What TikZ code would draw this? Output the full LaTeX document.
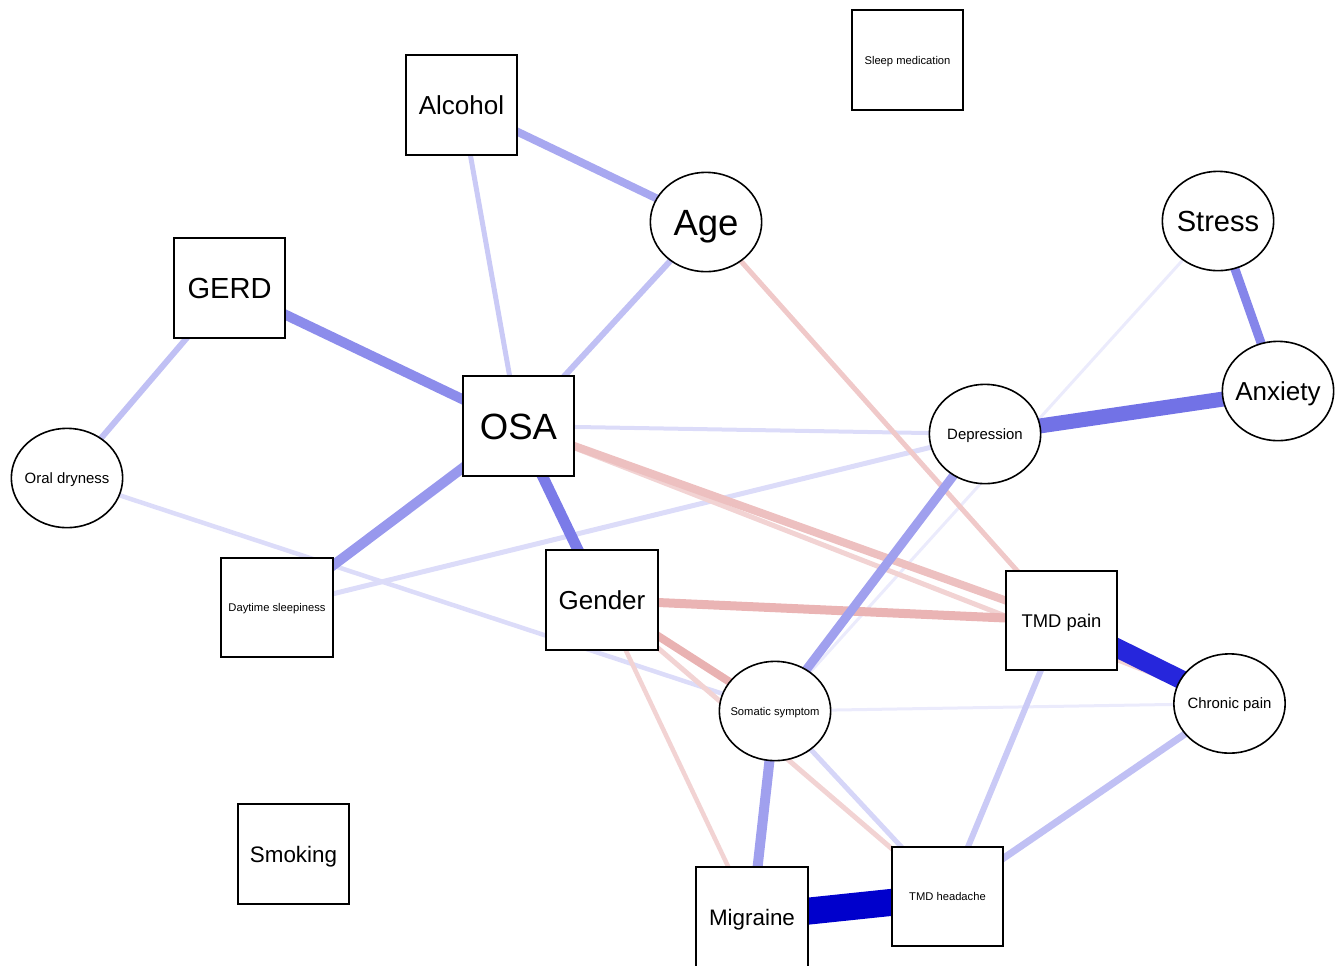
\documentclass[tikz,border=0pt]{standalone}
\usepackage{fontspec}
\setmainfont{Liberation Sans}
\usetikzlibrary{shapes.geometric,backgrounds}
\definecolor{bA}{HTML}{0000CC}
\definecolor{bB}{HTML}{2626DC}
\definecolor{bC}{HTML}{7272E6}
\definecolor{bD}{HTML}{7B7BE8}
\definecolor{bE}{HTML}{8585EA}
\definecolor{bF}{HTML}{8C8CEB}
\definecolor{bG}{HTML}{9898ED}
\definecolor{bH}{HTML}{A0A0EE}
\definecolor{bI}{HTML}{A8A8F0}
\definecolor{bJ}{HTML}{C0C0F4}
\definecolor{bK}{HTML}{CACAF6}
\definecolor{bL}{HTML}{D6D6F8}
\definecolor{bM}{HTML}{DCDCF9}
\definecolor{bN}{HTML}{EBEBFC}
\definecolor{rA}{HTML}{EAB4B4}
\definecolor{rB}{HTML}{E9B2B2}
\definecolor{rC}{HTML}{EDC0C0}
\definecolor{rD}{HTML}{F0C9C9}
\definecolor{rE}{HTML}{F2D3D3}
\newcommand{\zw}[1]{\makebox[0pt]{#1}}
\tikzset{
  box/.style={rectangle,draw=black,line width=1.5pt,fill=white,minimum width=83.5pt,minimum height=74.5pt,inner sep=0pt,text depth=0pt},
  oval/.style={ellipse,draw=black,line width=1.2pt,fill=white,minimum width=83.5pt,minimum height=74.5pt,inner sep=0pt,text depth=0pt},
  ed/.style 2 args={draw=#1,line width=#2*0.75pt},
  fXL/.style={font=\fontsize{27.4pt}{30pt}\selectfont,text height=19.7pt},
  fL/.style={font=\fontsize{21.8pt}{24pt}\selectfont,text height=15.7pt},
  fM/.style={font=\fontsize{19.5pt}{22pt}\selectfont,text height=14pt},
  fMs/.style={font=\fontsize{16.8pt}{19pt}\selectfont,text height=12.1pt},
  fS/.style={font=\fontsize{13.8pt}{16pt}\selectfont,text height=9.9pt},
  fXS/.style={font=\fontsize{11.2pt}{13pt}\selectfont,text height=8.1pt},
  fT/.style={font=\fontsize{8.4pt}{10pt}\selectfont,text height=6pt}
}
\begin{document}
\begin{tikzpicture}[x=0.75pt,y=-0.75pt]
\useasboundingbox (0,0) rectangle (1338,965);
% nodes
\node[box,fT] (sleep) at (907.5,60) {Sleep medication};
\node[box,fM] (alc) at (461.5,105) {Alcohol};
\node[oval,fXL] (age) at (706,222) {\zw{Age}};
\node[oval,fL] (stress) at (1218,221) {\zw{Stress}};
\node[box,fL] (gerd) at (229.5,288) {GERD};
\node[oval,fM] (anx) at (1278,391) {\zw{Anxiety}};
\node[oval,fXS] (dep) at (985,434) {\zw{Depression}};
\node[box,fXL] (osa) at (518.5,426) {OSA};
\node[oval,fXS] (oral) at (67,478) {\zw{Oral dryness}};
\node[box,fT] (day) at (277,607.5) {Daytime sleepiness};
\node[box,fM] (gen) at (602,600) {Gender};
\node[box,fS] (tmdp) at (1061.5,620.5) {TMD pain};
\node[oval,fXS] (chr) at (1229.5,703.5) {\zw{Chronic pain}};
\node[oval,fT] (som) at (775,711) {\zw{Somatic symptom}};
\node[box,fMs] (smok) at (293.5,854) {Smoking};
\node[box,fMs] (mig) at (752,917) {Migraine};
\node[box,fT] (tmdh) at (947.5,896.5) {TMD headache};
% edges
\begin{pgfonlayer}{background}
\draw[ed={bN}{3}] (stress.center) -- (som.center);
\draw[ed={bN}{3}] (som.center) -- (chr.center);
\draw[ed={bM}{4}] (osa.center) -- (dep.center);
\draw[ed={bM}{5}] (day.center) -- (dep.center);
\draw[ed={bM}{4.5}] (oral.center) -- (som.center);
\draw[ed={rE}{5}] (osa.center) -- (chr.center);
\draw[ed={rE}{4.5}] (gen.center) -- (mig.center);
\draw[ed={rE}{5}] (gen.center) -- (tmdh.center);
\draw[ed={bL}{5}] (som.center) -- (tmdh.center);
\draw[ed={rD}{5}] (age.center) -- (tmdp.center);
\draw[ed={bK}{5}] (alc.center) -- (osa.center);
\draw[ed={bK}{6}] (tmdp.center) -- (tmdh.center);
\draw[ed={bJ}{6}] (age.center) -- (osa.center);
\draw[ed={bJ}{6}] (gerd.center) -- (oral.center);
\draw[ed={bJ}{7}] (chr.center) -- (tmdh.center);
\draw[ed={rC}{8}] (osa.center) -- (tmdp.center);
\draw[ed={rB}{8}] (gen.center) -- (som.center);
\draw[ed={rA}{9}] (gen.center) -- (tmdp.center);
\draw[ed={bI}{8}] (alc.center) -- (age.center);
\draw[ed={bH}{9}] (dep.center) -- (som.center);
\draw[ed={bH}{10}] (som.center) -- (mig.center);
\draw[ed={bG}{10}] (osa.center) -- (day.center);
\draw[ed={bF}{10}] (gerd.center) -- (osa.center);
\draw[ed={bE}{9}] (stress.center) -- (anx.center);
\draw[ed={bD}{11}] (osa.center) -- (gen.center);
\draw[ed={bC}{15}] (anx.center) -- (dep.center);
\draw[ed={bB}{19}] (tmdp.center) -- (chr.center);
\draw[ed={bA}{27}] (mig.center) -- (tmdh.center);
\end{pgfonlayer}
\end{tikzpicture}
\end{document}
